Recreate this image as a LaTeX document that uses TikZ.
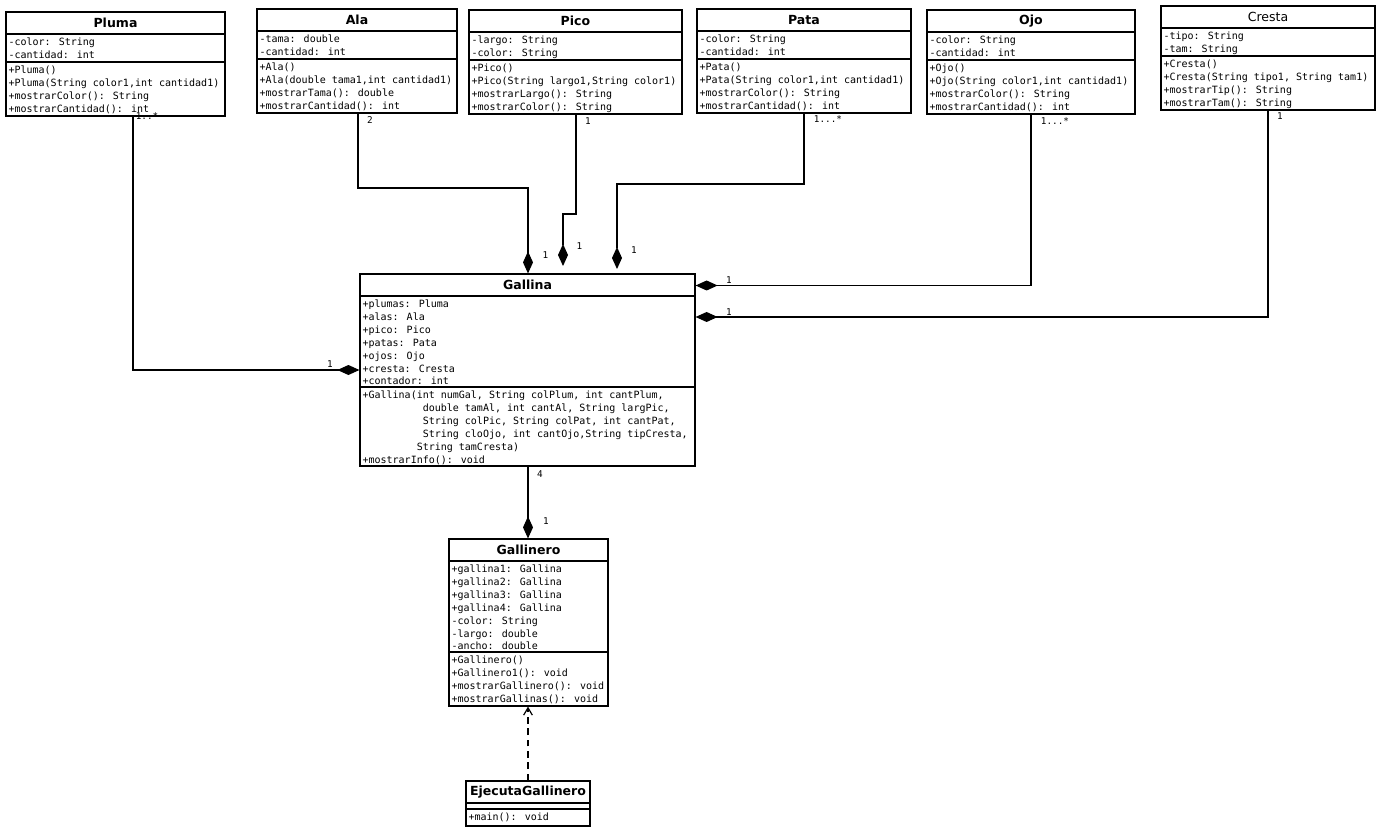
\documentclass[tikz,border=0pt]{standalone}
\usepackage{fontspec}
\setmainfont{DejaVu Sans}
\newfontfamily\mono{DejaVu Sans Mono}
\usetikzlibrary{arrows.meta,fit}

\tikzset{every picture/.style={line width=0.9pt}}
\tikzset{
	clase/.style={draw, inner sep=0pt},
	titulo/.style={font=\bfseries\fontsize{9.4}{11}\selectfont, inner sep=0pt},
	miembro/.style={anchor=north west, align=left, inner sep=0pt, yshift=-1.1pt, font=\mono\fontsize{7.5}{9.65}\selectfont},
	mult/.style={font=\mono\fontsize{7}{8}\selectfont, inner sep=0pt},
	comp/.style={-{Diamond[length=16.5pt,width=7.5pt]}},
	usa/.style={dash pattern=on 5pt off 3.5pt, -{Straight Barb[length=5.5pt,width=6.5pt]}}}

\begin{document}
\begin{tikzpicture}[x=0.75pt,y=0.75pt,yscale=-1,xscale=1]
	\useasboundingbox (0,0) rectangle (1380,830);

	%Class: Pluma
	\node [clase, fit={(6,12) (225,116)}] (pluma) {};
	\draw (pluma.west |- 0,34) -- (pluma.east |- 0,34) (pluma.west |- 0,62) -- (pluma.east |- 0,62);
	\node [titulo] (plumaT) at (115.5,23) {Pluma};
	\node [miembro] (plumaA) at (8,36) {-color: String\\-cantidad: int};
	\node [miembro] (plumaM) at (8,64) {+Pluma()\\+Pluma(String color1,int cantidad1)\\+mostrarColor(): String\\+mostrarCantidad(): int};

	%Class: Ala
	\node [clase, fit={(257,9) (457,113)}] (ala) {};
	\draw (ala.west |- 0,31) -- (ala.east |- 0,31) (ala.west |- 0,59) -- (ala.east |- 0,59);
	\node [titulo] (alaT) at (357,20) {Ala};
	\node [miembro] (alaA) at (259,33) {-tama: double\\-cantidad: int};
	\node [miembro] (alaM) at (259,61) {+Ala()\\+Ala(double tama1,int cantidad1)\\+mostrarTama(): double\\+mostrarCantidad(): int};

	%Class: Pico
	\node [clase, fit={(469,10) (682,114)}] (pico) {};
	\draw (pico.west |- 0,32) -- (pico.east |- 0,32) (pico.west |- 0,60) -- (pico.east |- 0,60);
	\node [titulo] (picoT) at (575.5,21) {Pico};
	\node [miembro] (picoA) at (471,34) {-largo: String\\-color: String};
	\node [miembro] (picoM) at (471,62) {+Pico()\\+Pico(String largo1,String color1)\\+mostrarLargo(): String\\+mostrarColor(): String};

	%Class: Pata
	\node [clase, fit={(697,9) (911,113)}] (pata) {};
	\draw (pata.west |- 0,31) -- (pata.east |- 0,31) (pata.west |- 0,59) -- (pata.east |- 0,59);
	\node [titulo] (pataT) at (804,20) {Pata};
	\node [miembro] (pataA) at (699,33) {-color: String\\-cantidad: int};
	\node [miembro] (pataM) at (699,61) {+Pata()\\+Pata(String color1,int cantidad1)\\+mostrarColor(): String\\+mostrarCantidad(): int};

	%Class: Ojo
	\node [clase, fit={(927,10) (1135,114)}] (ojo) {};
	\draw (ojo.west |- 0,32) -- (ojo.east |- 0,32) (ojo.west |- 0,60) -- (ojo.east |- 0,60);
	\node [titulo] (ojoT) at (1031,21) {Ojo};
	\node [miembro] (ojoA) at (929,34) {-color: String\\-cantidad: int};
	\node [miembro] (ojoM) at (929,62) {+Ojo()\\+Ojo(String color1,int cantidad1)\\+mostrarColor(): String\\+mostrarCantidad(): int};

	%Class: Cresta
	\node [clase, fit={(1161,6) (1375,110)}] (cresta) {};
	\draw (cresta.west |- 0,28) -- (cresta.east |- 0,28) (cresta.west |- 0,56) -- (cresta.east |- 0,56);
	\node [titulo, font=\fontsize{9.4}{11}\selectfont] (crestaT) at (1268,17) {Cresta};
	\node [miembro] (crestaA) at (1163,30) {-tipo: String\\-tam: String};
	\node [miembro] (crestaM) at (1163,58) {+Cresta()\\+Cresta(String tipo1, String tam1)\\+mostrarTip(): String\\+mostrarTam(): String};

	%Class: Gallina
	\node [clase, fit={(360,274) (695,466)}] (gallina) {};
	\draw (gallina.west |- 0,296) -- (gallina.east |- 0,296) (gallina.west |- 0,387) -- (gallina.east |- 0,387);
	\node [titulo] (gallinaT) at (527.5,285) {Gallina};
	\node [miembro] (gallinaA) at (362,298) {+plumas: Pluma\\+alas: Ala\\+pico: Pico\\+patas: Pata\\+ojos: Ojo\\+cresta: Cresta\\+contador: int};
	\node [miembro] (gallinaM) at (362,389) {+Gallina(int numGal, String colPlum, int cantPlum,\\
		\phantom{0000000000}double tamAl, int cantAl, String largPic,\\
		\phantom{0000000000}String colPic, String colPat, int cantPat,\\
		\phantom{0000000000}String cloOjo, int cantOjo,String tipCresta,\\
		\phantom{000000000}String tamCresta)\\
		+mostrarInfo(): void};

	%Class: Gallinero
	\node [clase, fit={(449,539) (608,706)}] (gallinero) {};
	\draw (gallinero.west |- 0,561) -- (gallinero.east |- 0,561) (gallinero.west |- 0,652) -- (gallinero.east |- 0,652);
	\node [titulo] (gallineroT) at (528.5,550) {Gallinero};
	\node [miembro] (gallineroA) at (451,563) {+gallina1: Gallina\\+gallina2: Gallina\\+gallina3: Gallina\\+gallina4: Gallina\\-color: String\\-largo: double\\-ancho: double};
	\node [miembro] (gallineroM) at (451,654) {+Gallinero()\\+Gallinero1(): void\\+mostrarGallinero(): void\\+mostrarGallinas(): void};

	%Class: EjecutaGallinero
	\node [clase, fit={(466,781) (590,826)}] (ejecuta) {};
	\draw (ejecuta.west |- 0,803) -- (ejecuta.east |- 0,803) (ejecuta.west |- 0,809) -- (ejecuta.east |- 0,809);
	\node [titulo] (ejecutaT) at (528,792) {EjecutaGallinero};
	\node [miembro] (ejecutaM) at (468,811) {+main(): void};

	% free ends of the two short diamonds
	\coordinate (picoFin) at (563,266);
	\coordinate (pataFin) at (617,269);

	%Composition lines
	\draw [comp] (pluma.south -| 133,0) |- (gallina.west |- 0,370);
	\draw [comp] (ala.south -| 358,0) -- (358,188) -| (gallina.north -| 528,0);
	\draw [comp] (pico.south -| 576,0) -- (576,214) -| (picoFin);
	\draw [comp] (pata.south -| 804,0) -- (804,184) -| (pataFin);
	\draw [comp] (ojo.south -| 1031,0) |- (gallina.east |- 0,285.5);
	\draw [comp] (cresta.south -| 1268,0) |- (gallina.east |- 0,317);
	\draw [comp] (gallina.south -| 528,0) -- (gallinero.north -| 528,0);
	%Dependency
	\draw [usa] (ejecuta.north -| 528,0) -- (gallinero.south -| 528,0);

	% Multiplicities
	\node [mult] (m1) at (147,116) {1..*};
	\node [mult] (m2) at (330,364) {1};
	\node [mult] (m3) at (370,120) {2};
	\node [mult] (m4) at (545.5,255) {1};
	\node [mult] (m5) at (588,121) {1};
	\node [mult] (m6) at (579.5,246) {1};
	\node [mult] (m7) at (828,119) {1...*};
	\node [mult] (m8) at (634,250) {1};
	\node [mult] (m9) at (1055,121) {1...*};
	\node [mult] (m10) at (729,280) {1};
	\node [mult] (m11) at (1280,116) {1};
	\node [mult] (m12) at (729,312) {1};
	\node [mult] (m13) at (540,474) {4};
	\node [mult] (m14) at (546,521) {1};

\end{tikzpicture}
\end{document}
